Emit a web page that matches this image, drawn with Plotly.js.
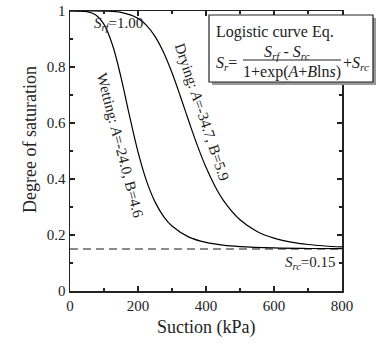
<!DOCTYPE html>
<html>
<head>
<meta charset="utf-8">
<script src="https://cdn.plot.ly/plotly-3.0.1.min.js"></script>
<style>html,body{margin:0;padding:0;background:#fff}#chart{width:378px;height:344px}</style>
</head>
<body>
<div id="chart"></div>
<script>
var dryingSuction = [0, 50, 100, 150, 200, 225, 250, 275, 300, 325, 350, 375, 400, 425, 450, 500, 550, 600, 650, 700, 750, 800];
var dryingSr = [1.000, 1.000, 0.9995, 0.9950, 0.9736, 0.9487, 0.9092, 0.8525, 0.7793, 0.6940, 0.6044, 0.5182, 0.4416, 0.3774, 0.3257, 0.2544, 0.2128, 0.1887, 0.1746, 0.1660, 0.1607, 0.1574];
var wettingSuction = [0, 25, 50, 75, 100, 125, 150, 175, 200, 225, 250, 275, 300, 350, 400, 450, 500, 600, 700, 800];
var wettingSr = [1.000, 0.9999, 0.9979, 0.9867, 0.9520, 0.8784, 0.7631, 0.6261, 0.4968, 0.3932, 0.3183, 0.2668, 0.2320, 0.1924, 0.1735, 0.1638, 0.1586, 0.1537, 0.1518, 0.1510];
var srcX = [0, 800];
var srcY = [0.15, 0.15];
var xTicks = [0, 200, 400, 600, 800];
var yTicks = [0, 0.2, 0.4, 0.6, 0.8, 1];
var yTickText = ['0', '0.2', '0.4', '0.6', '0.8', '1'];

var W = 378, H = 344, L = 70, R = 36, T = 11, B = 53;
var pw = W - L - R, ph = H - T - B;
function px(x) { return (x - L) / pw; }
function py(y) { return (H - B - y) / ph; }

var FONT = 'Liberation Serif';

var traces = [
  {x: srcX, y: srcY, mode: 'lines', line: {color: '#666', width: 1.3, dash: '8px,5px'}, hoverinfo: 'skip'},
  {x: dryingSuction, y: dryingSr, mode: 'lines', line: {color: '#000', width: 1.2, shape: 'spline'}},
  {x: wettingSuction, y: wettingSr, mode: 'lines', line: {color: '#000', width: 1.2, shape: 'spline'}}
];

var axisCommon = {
  showline: true, linecolor: '#222', linewidth: 1.5, mirror: 'ticks',
  ticks: 'inside', ticklen: 5, tickwidth: 1.2, tickcolor: '#222',
  showgrid: false, zeroline: false, automargin: false,
  tickfont: {family: FONT, size: 15, color: '#222'}
};

var layout = {
  width: W, height: H,
  margin: {l: L, r: R, t: T, b: B},
  paper_bgcolor: '#fff', plot_bgcolor: '#fff',
  showlegend: false,
  xaxis: Object.assign({}, axisCommon, {
    range: [0, 800], tickvals: xTicks,
    minor: {dtick: 100, ticks: 'inside', ticklen: 3, tickcolor: '#222'}
  }),
  yaxis: Object.assign({}, axisCommon, {
    range: [0, 1], tickvals: yTicks, ticktext: yTickText,
    minor: {dtick: 0.1, ticks: 'inside', ticklen: 3, tickcolor: '#222'}
  }),
  shapes: [
    {type: 'rect', xref: 'paper', yref: 'paper', x0: px(212), x1: px(376), y0: py(18), y1: py(85), fillcolor: '#999', line: {width: 0}, layer: 'above'},
    {type: 'rect', xref: 'paper', yref: 'paper', x0: px(209), x1: px(373), y0: py(15), y1: py(82), fillcolor: '#fff', line: {color: '#222', width: 1.2}, layer: 'above'},
    {type: 'line', xref: 'paper', yref: 'paper', x0: px(243), x1: px(341), y0: py(60), y1: py(60), line: {color: '#222', width: 1}, layer: 'above'}
  ],
  annotations: [
    {xref: 'paper', yref: 'paper', x: px(30), y: py(140), xanchor: 'center', yanchor: 'middle', showarrow: false, textangle: -90,
     text: 'Degree of saturation', font: {family: FONT, size: 18, color: '#222'}},
    {xref: 'paper', yref: 'paper', x: px(206), y: py(327), xanchor: 'center', yanchor: 'middle', showarrow: false,
     text: 'Suction (kPa)', font: {family: FONT, size: 18, color: '#222'}},
    {xref: 'paper', yref: 'paper', x: px(214), y: py(32), xanchor: 'left', yanchor: 'middle', showarrow: false,
     text: 'Logistic curve Eq.', font: {family: FONT, size: 16, color: '#222'}},
    {xref: 'paper', yref: 'paper', x: px(214), y: py(63), xanchor: 'left', yanchor: 'middle', showarrow: false,
     text: '<i>S<sub>r</sub></i>=', font: {family: FONT, size: 16, color: '#222'}},
    {xref: 'paper', yref: 'paper', x: px(287), y: py(52), xanchor: 'center', yanchor: 'middle', showarrow: false,
     text: '<i>S<sub>rf</sub></i> - <i>S<sub>rc</sub></i>', font: {family: FONT, size: 16, color: '#222'}},
    {xref: 'paper', yref: 'paper', x: px(292), y: py(72), xanchor: 'center', yanchor: 'middle', showarrow: false,
     text: '1+exp(<i>A</i>+<i>B</i>ln<i>s</i>)', font: {family: FONT, size: 16, color: '#222'}},
    {xref: 'paper', yref: 'paper', x: px(341), y: py(63), xanchor: 'left', yanchor: 'middle', showarrow: false,
     text: '+<i>S<sub>rc</sub></i>', font: {family: FONT, size: 16, color: '#222'}},
    {xref: 'paper', yref: 'paper', x: px(118), y: py(24), xanchor: 'center', yanchor: 'middle', showarrow: false,
     text: '<i>S<sub>rf</sub></i>=1.00', font: {family: FONT, size: 15, color: '#222'}},
    {xref: 'paper', yref: 'paper', x: px(338), y: py(263), xanchor: 'right', yanchor: 'middle', showarrow: false,
     text: '<i>S<sub>rc</sub></i>=0.15', font: {family: FONT, size: 15, color: '#222'}},
    {xref: 'paper', yref: 'paper', x: px(202), y: py(112), xanchor: 'center', yanchor: 'middle', showarrow: false, textangle: 71.6,
     text: 'Drying: <i>A</i>=-34.7, B=5.9', font: {family: FONT, size: 15, color: '#222'}},
    {xref: 'paper', yref: 'paper', x: px(120), y: py(145), xanchor: 'center', yanchor: 'middle', showarrow: false, textangle: 75.5,
     text: 'Wetting: <i>A</i>=-24.0, B=4.6', font: {family: FONT, size: 15, color: '#222'}}
  ]
};

Plotly.newPlot('chart', traces, layout, {staticPlot: true, displayModeBar: false});
</script>
</body>
</html>
